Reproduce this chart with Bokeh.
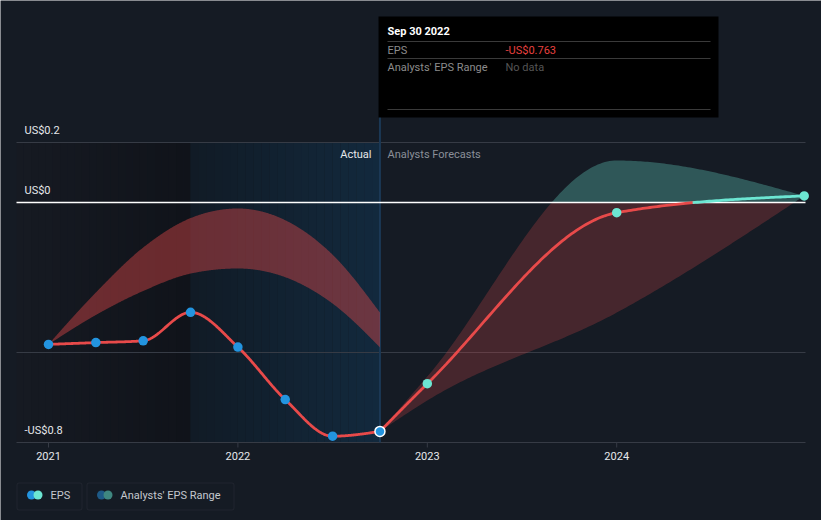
import numpy as np
from bokeh.plotting import figure
from bokeh.models import Range1d, BoxAnnotation
from bokeh.core.properties import value
from bokeh.embed import file_html
from bokeh.resources import INLINE

# ---------------- data ----------------
hist_t = [2021.0, 2021.25, 2021.5, 2021.75, 2022.0, 2022.25, 2022.5, 2022.75]
hist_eps = [-0.473, -0.467, -0.461, -0.366, -0.482, -0.657, -0.779, -0.763]
hist_range_hi = [-0.473, -0.30, -0.15, -0.052, -0.02, -0.059, -0.174, -0.367]
hist_range_lo = [-0.473, -0.375, -0.295, -0.237, -0.22, -0.249, -0.337, -0.483]

fc_t = [2022.75, 2023.0, 2024.0, 2024.99]
fc_eps = [-0.763, -0.604, -0.034, 0.022]
fc_hi = [-0.763, -0.58, 0.14, 0.022]
fc_lo = [-0.763, -0.66, -0.367, 0.022]

y_tick_vals = [0.2, 0.0, -0.8]
y_tick_labels = ["US$0.2", "US$0", "-US$0.8"]
grid_vals = [0.2, -0.5, -0.8]
x_tick_vals = [2021, 2022, 2023, 2024]
x_tick_labels = ["2021", "2022", "2023", "2024"]

tip_date = "Sep 30 2022"
tip_eps = "-US$0.763"

# ---------------- style ----------------
BG = "#151b24"
RED = "#e84a4a"
TEAL = "#6ce6d2"
BLUE = "#2394df"
GRID = "#363b45"
FONT = value("Roboto")

W, H = 821, 520
X0_PX, PX_PER_YEAR = 48.0, 189.4
Y0_PX, PX_PER_UNIT = 202.0, 300.0


def px_x(px):
    return 2021 + (px - X0_PX) / PX_PER_YEAR


def px_y(py):
    return (Y0_PX - py) / PX_PER_UNIT


def monotone(xs, ys, n=80):
    xs = np.asarray(xs, float)
    ys = np.asarray(ys, float)
    h = np.diff(xs)
    s = np.diff(ys) / h
    m = np.zeros(len(xs))
    for i in range(1, len(xs) - 1):
        h0, h1 = h[i - 1], h[i]
        s0, s1 = s[i - 1], s[i]
        p = (s0 * h1 + s1 * h0) / (h0 + h1)
        m[i] = (np.sign(s0) + np.sign(s1)) * min(abs(s0), abs(s1), 0.5 * abs(p))
    if len(xs) > 2:
        m[0] = (3 * s[0] - m[1]) / 2
        m[-1] = (3 * s[-1] - m[-2]) / 2
    else:
        m[:] = s[0]
    X, Y = [], []
    for i in range(len(xs) - 1):
        t = np.linspace(0, 1, n, endpoint=(i == len(xs) - 2))
        hh = h[i]
        h00 = 2 * t**3 - 3 * t**2 + 1
        h10 = t**3 - 2 * t**2 + t
        h01 = -2 * t**3 + 3 * t**2
        h11 = t**3 - t**2
        X.append(xs[i] + t * hh)
        Y.append(h00 * ys[i] + h10 * hh * m[i] + h01 * ys[i + 1] + h11 * hh * m[i + 1])
    return np.concatenate(X), np.concatenate(Y)


def hexmix(c1, c2, f):
    a = [int(c1[i:i + 2], 16) for i in (1, 3, 5)]
    b = [int(c2[i:i + 2], 16) for i in (1, 3, 5)]
    return "#%02x%02x%02x" % tuple(int(round(a[k] + (b[k] - a[k]) * f)) for k in range(3))


p = figure(width=W, height=H,
           x_range=Range1d(px_x(0), px_x(W)), y_range=Range1d(px_y(H), px_y(0)),
           x_axis_location=None, y_axis_location=None,
           toolbar_location=None, output_backend="svg", min_border=0,
           background_fill_color=BG, border_fill_color=BG, outline_line_color=None)
p.grid.visible = False

top_v, bot_v = grid_vals[0], grid_vals[-1]
left_x, right_x = px_x(16), px_x(805)

# past (darker) region
n = 24
edges = np.linspace(left_x, hist_t[3], n + 1)
p.quad(left=edges[:-1], right=edges[1:], top=top_v, bottom=bot_v,
       fill_color=[hexmix("#161a22", "#10131a", i / (n - 1)) for i in range(n)], line_color=None)
# highlighted year
edges = np.linspace(hist_t[3], hist_t[-1], n + 1)
p.quad(left=edges[:-1], right=edges[1:], top=top_v, bottom=bot_v,
       fill_color=[hexmix("#111b26", "#12293d", i / (n - 1)) for i in range(n)], line_color=None)

# grid lines
for g in grid_vals:
    p.line([left_x, right_x], [g, g], line_color=GRID, line_width=1)
# x ticks
for xt in x_tick_vals:
    p.line([xt, xt], [bot_v, px_y(447)], line_color=GRID, line_width=1)

# vertical hover line
p.line([hist_t[-1], hist_t[-1]], [px_y(20), bot_v], line_color="#1b3855", line_width=2)

# historic analyst range
hx, hhi = monotone(hist_t, hist_range_hi)
_, hlo = monotone(hist_t, hist_range_lo)
p.varea(x=hx, y1=hlo, y2=hhi, fill_color=RED, fill_alpha=0.42)

# forecast range split by sign
fx, fhi = monotone(fc_t, fc_hi)
_, flo = monotone(fc_t, fc_lo)
p.varea(x=fx, y1=np.minimum(flo, 0), y2=np.minimum(fhi, 0), fill_color=RED, fill_alpha=0.24)
p.varea(x=fx, y1=np.maximum(flo, 0), y2=np.maximum(fhi, 0), fill_color=TEAL, fill_alpha=0.3)

# zero line
p.line([left_x, right_x], [0, 0], line_color="#ffffff", line_width=1.5)

# EPS lines
ex, ey = monotone(hist_t, hist_eps)
p.line(ex, ey, line_color=RED, line_width=2.8)
gx, gy = monotone(fc_t, fc_eps)
neg = gy <= 0
neg_ext = neg | np.roll(neg, 1) | np.roll(neg, -1)
pos = gy >= 0
pos_ext = pos | np.roll(pos, 1) | np.roll(pos, -1)
p.line(gx, np.where(neg_ext, gy, np.nan), line_color=RED, line_width=2.8)
p.line(gx, np.where(pos_ext, gy, np.nan), line_color=TEAL, line_width=2.8)

# markers
p.scatter(hist_t[:-1], hist_eps[:-1], size=9.5, fill_color=BLUE, line_color=None)
p.scatter(fc_t[1:], fc_eps[1:], size=9.5, fill_color=TEAL, line_color=None)
p.scatter([hist_t[-1]], [hist_eps[-1]], size=10, fill_color=BLUE, line_color="#ffffff", line_width=1.5)

# axis labels (placed just above their gridlines)
label_off = px_y(190) - px_y(202)
p.text(x=[px_x(24)] * 3, y=[v + label_off for v in y_tick_vals],
       text=y_tick_labels, text_font=FONT, text_font_size="11px", text_color="#e6e8eb",
       text_align="left", text_baseline="middle")
p.text(x=x_tick_vals, y=[px_y(455)] * 4, text=x_tick_labels, text_font=FONT,
       text_font_size="11px", text_color="#e6e8eb", text_align="center", text_baseline="middle")

# section labels
p.text(x=[px_x(371)], y=[px_y(154)], text=["Actual"], text_font=FONT, text_font_size="11px",
       text_color="#e6e8eb", text_align="right", text_baseline="middle")
p.text(x=[px_x(387)], y=[px_y(154)], text=["Analysts Forecasts"], text_font=FONT,
       text_font_size="11px", text_color="#8a8f98", text_align="left", text_baseline="middle")

# tooltip
p.quad(left=px_x(378), right=px_x(718), top=px_y(16), bottom=px_y(117),
       fill_color="#000000", line_color=None)
for yy in (41, 58, 109):
    p.line([px_x(387), px_x(710)], [px_y(yy)] * 2, line_color="#3a3a3a", line_width=1)
p.text(x=[px_x(387)], y=[px_y(31)], text=[tip_date], text_font=FONT, text_font_size="11px",
       text_color="#ffffff", text_font_style="bold", text_align="left", text_baseline="middle")
p.text(x=[px_x(387), px_x(387)], y=[px_y(49.5), px_y(66.5)], text=["EPS", "Analysts' EPS Range"],
       text_font=FONT, text_font_size="11px", text_color="#8c8c8c",
       text_align="left", text_baseline="middle")
p.text(x=[px_x(505)], y=[px_y(49.5)], text=[tip_eps], text_font=FONT, text_font_size="11px",
       text_color="#e8413f", text_align="left", text_baseline="middle")
p.text(x=[px_x(505)], y=[px_y(66.5)], text=["No data"], text_font=FONT, text_font_size="11px",
       text_color="#555555", text_align="left", text_baseline="middle")

# legend
for l, r in ((16.5, 81.5), (86.5, 233.5)):
    p.add_layout(BoxAnnotation(left=px_x(l), right=px_x(r), top=px_y(482.5), bottom=px_y(509.5),
                               fill_color=None, line_color="#3a404b", line_width=1, border_radius=2))
p.scatter([px_x(31), px_x(37.5)], [px_y(494.5)] * 2, size=9, fill_color=[BLUE, TEAL], line_color=None)
p.scatter([px_x(101), px_x(107.5)], [px_y(494.5)] * 2, size=9,
          fill_color=["#1e5a87", "#3f8780"], line_color=None)
p.text(x=[px_x(50), px_x(120)], y=[px_y(495)] * 2, text=["EPS", "Analysts' EPS Range"],
       text_font=FONT, text_font_size="11px", text_color="#c4c8ce",
       text_align="left", text_baseline="middle")

open("out.html", "w").write(file_html(p, INLINE))
